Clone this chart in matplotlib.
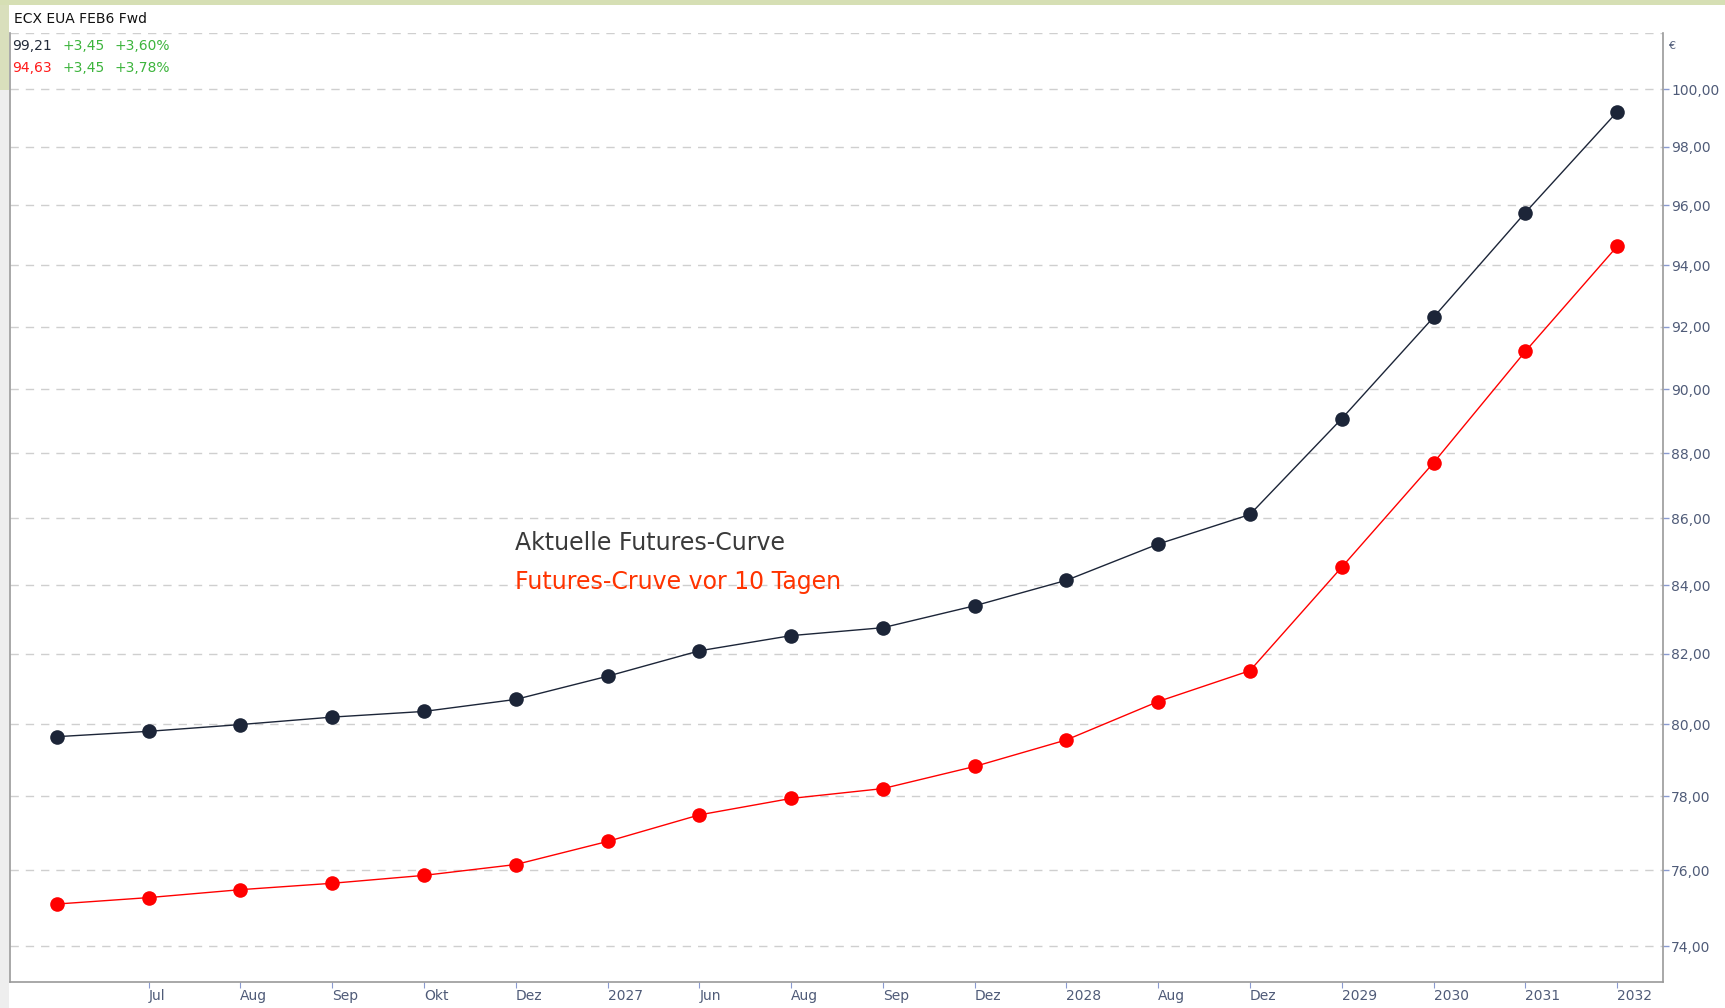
import matplotlib

matplotlib.use("Agg")
import matplotlib.pyplot as plt
import numpy as np
from matplotlib.patches import Rectangle
from matplotlib.ticker import FixedLocator, FuncFormatter, NullLocator

# forward curve contracts (first one has no axis label)
tick_labels = ["", "Jul", "Aug", "Sep", "Okt", "Dez", "2027", "Jun", "Aug",
               "Sep", "Dez", "2028", "Aug", "Dez", "2029", "2030", "2031", "2032"]

current_curve = [79.65, 79.80, 79.99, 80.20, 80.36, 80.70, 81.36, 82.09, 82.53,
                 82.76, 83.40, 84.15, 85.23, 86.12, 89.07, 92.30, 95.76, 99.21]
curve_10d_ago = [75.10, 75.27, 75.48, 75.65, 75.86, 76.15, 76.77, 77.49, 77.94,
                 78.21, 78.82, 79.56, 80.64, 81.52, 84.54, 87.70, 91.20, 94.63]

y_ticks = [74, 76, 78, 80, 82, 84, 86, 88, 90, 92, 94, 96, 98, 100]
grid_levels = y_ticks + [102]

DARK = "#1c2538"
RED = "#ff0000"
AXIS_TXT = "#4f5b78"
TICK_CLR = "#8a9ad0"

W, H = 1725, 1008
fig = plt.figure(figsize=(W / 100, H / 100), dpi=100, facecolor="white")

# window chrome: green strip on top, left margin strip
fig.patches.append(Rectangle((0, 1 - 5 / H), 1, 5 / H, transform=fig.transFigure,
                             facecolor="#d6dfb4", edgecolor="none", zorder=0))
fig.patches.append(Rectangle((0, 1 - 90 / H), 8.5 / W, 85 / H, transform=fig.transFigure,
                             facecolor="#d9dfbc", edgecolor="none", zorder=0))
fig.patches.append(Rectangle((0, 0), 8.5 / W, 1 - 90 / H, transform=fig.transFigure,
                             facecolor="#eeeeee", edgecolor="none", zorder=0))

left, right, top, bottom = 10, 1663, 33, 982
ax = fig.add_axes([left / W, 1 - bottom / H, (right - left) / W, (bottom - top) / H])
ax.set_facecolor("white")

x = np.arange(len(tick_labels))
ax.plot(x, current_curve, color=DARK, lw=1.0, marker="o", ms=10.5,
        markeredgewidth=0, zorder=3)
ax.plot(x, curve_10d_ago, color=RED, lw=1.0, marker="o", ms=10.5,
        markeredgewidth=0, zorder=3)

ax.set_yscale("log")
ax.set_ylim(73.07, 102)
ax.set_xlim(-0.51, 17.5)

for lvl in grid_levels:
    ax.axhline(lvl, color="#cfcfcf", lw=1.0, dashes=(6, 5), zorder=1)

ax.yaxis.tick_right()
ax.yaxis.set_major_locator(FixedLocator(y_ticks))
ax.yaxis.set_minor_locator(NullLocator())
ax.yaxis.set_major_formatter(FuncFormatter(lambda v, _: f"{v:.2f}".replace(".", ",")))
ax.tick_params(axis="y", which="major", length=4, width=1, color=TICK_CLR,
               labelcolor=AXIS_TXT, labelsize=10, pad=2)

ax.set_xticks(x[1:])
ax.set_xticklabels(tick_labels[1:], ha="left")
ax.tick_params(axis="x", length=4, width=0.8, color=TICK_CLR,
               labelcolor=AXIS_TXT, labelsize=10, pad=1)
for lbl in ax.get_xticklabels():
    lbl.set_horizontalalignment("left")

for side in ["left", "bottom", "right"]:
    ax.spines[side].set_color("#9a9a9a")
    ax.spines[side].set_linewidth(1.2)
ax.spines["top"].set_visible(False)

# header and quote lines
fig.text(14 / W, 1 - 19 / H, "ECX EUA FEB6 Fwd", fontsize=10, color="#111111", va="center")
fig.text(12 / W, 1 - 46 / H, "99,21", fontsize=10, color="#222a3a", va="center")
fig.text(63 / W, 1 - 46 / H, "+3,45", fontsize=10, color="#3cb43c", va="center")
fig.text(115 / W, 1 - 46 / H, "+3,60%", fontsize=10, color="#3cb43c", va="center")
fig.text(12 / W, 1 - 68 / H, "94,63", fontsize=10, color="#ff1a1a", va="center")
fig.text(63 / W, 1 - 68 / H, "+3,45", fontsize=10, color="#3cb43c", va="center")
fig.text(115 / W, 1 - 68 / H, "+3,78%", fontsize=10, color="#3cb43c", va="center")
fig.text(1668 / W, 1 - 46 / H, "€", fontsize=8, color=AXIS_TXT, va="center")

# annotations
fig.text(515 / W, 1 - 543 / H, "Aktuelle Futures-Curve", fontsize=17,
         color="#3a3a3a", va="center")
fig.text(515 / W, 1 - 582 / H, "Futures-Cruve vor 10 Tagen", fontsize=17,
         color="#ff3300", va="center")

fig.savefig("out.png", dpi=100, facecolor="white")
